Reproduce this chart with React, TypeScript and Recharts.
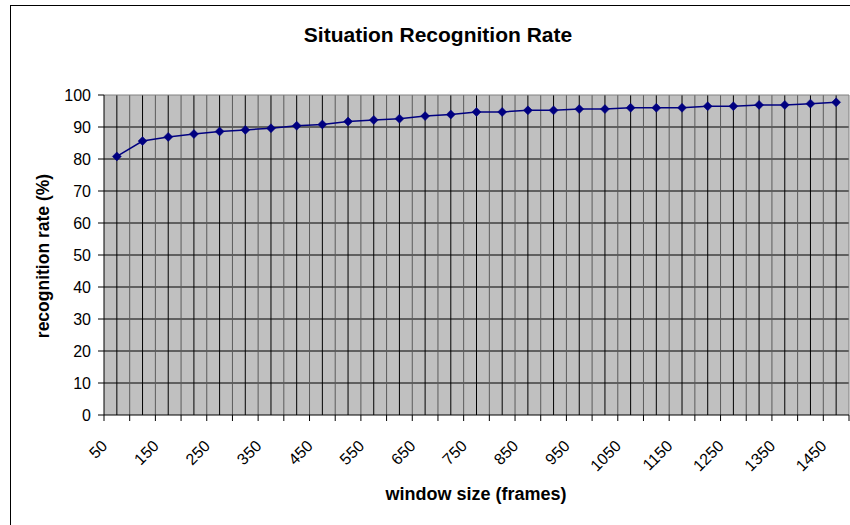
import React from "react";
import { LineChart, Line, XAxis, YAxis, CartesianGrid } from "recharts";

const windowSizes = [50,100,150,200,250,300,350,400,450,500,550,600,650,700,750,800,850,900,950,1000,1050,1100,1150,1200,1250,1300,1350,1400,1450];
const rates = [80.8,85.6,86.9,87.8,88.6,89.1,89.6,90.4,90.8,91.7,92.2,92.6,93.4,93.9,94.7,94.7,95.2,95.2,95.6,95.6,96.0,96.0,96.0,96.5,96.5,96.9,96.9,97.3,97.7];
const labelTicks = [50,150,250,350,450,550,650,750,850,950,1050,1150,1250,1350,1450];
const boundaryTicks = [25,75,125,175,225,275,325,375,425,475,525,575,625,675,725,775,825,875,925,975,1025,1075,1125,1175,1225,1275,1325,1375,1425,1475];
const yTicks = [0,10,20,30,40,50,60,70,80,90,100];
const yGrid = [10,20,30,40,50,60,70,80,90];

const data = windowSizes.map((x, i) => ({ x, rate: rates[i] }));
const allTicks = [...boundaryTicks, ...labelTicks].sort((a, b) => a - b);
const FONT = "Arial, 'Liberation Sans', sans-serif";

const XTick = (props: any) => {
  const { x, y, payload } = props;
  const v = payload.value;
  if (boundaryTicks.includes(v)) {
    return <line x1={x} x2={x} y1={y} y2={y + 6} stroke="#000" strokeWidth={1} />;
  }
  if (labelTicks.includes(v)) {
    const ax = x - 8.5;
    const ay = y + 32;
    return (
      <text x={ax} y={ay} textAnchor="end" fontSize={16} fontFamily={FONT} fill="#000" transform={`rotate(-45 ${ax} ${ay})`}>
        {v}
      </text>
    );
  }
  return null;
};

const Diamond = (props: any) => {
  const { cx, cy } = props;
  if (cx == null || cy == null) return null;
  const s = 4.5;
  return <path d={`M${cx},${cy - s}L${cx + s},${cy}L${cx},${cy + s}L${cx - s},${cy}Z`} fill="#000080" stroke="#000080" strokeWidth={0.5} />;
};

export default function App() {
  return (
    <div style={{ position: "fixed", left: 0, top: 0, width: 850, height: 525, overflow: "hidden", background: "#fff", fontFamily: FONT }}>
      <div style={{ position: "absolute", left: 10, top: 5, width: 900, height: 600, border: "1.5px solid #000", boxSizing: "border-box" }} />
      <div style={{ position: "absolute", left: 0, width: 876, top: 22, lineHeight: "26px", textAlign: "center", fontSize: 21, fontWeight: "bold", color: "#000" }}>
        Situation Recognition Rate
      </div>
      <div style={{ position: "absolute", left: 0, width: 952, top: 483, lineHeight: "22px", textAlign: "center", fontSize: 18, fontWeight: "bold", color: "#000" }}>
        window size (frames)
      </div>
      <div style={{ position: "absolute", left: 43, top: 256, width: 0, height: 0 }}>
        <div style={{ position: "absolute", left: -150, top: -11, width: 300, textAlign: "center", fontSize: 17.5, fontWeight: "bold", color: "#000", transform: "rotate(-90deg)", lineHeight: "22px" }}>
          recognition rate (%)
        </div>
      </div>
      <div style={{ position: "absolute", left: 0, top: 0 }}>
        <LineChart width={850} height={525} data={data} margin={{ top: 95, right: 1, left: 0, bottom: 0 }}>
          <CartesianGrid fill="#C0C0C0" horizontalValues={yGrid} vertical={false} stroke="#000" strokeDasharray="" />
          <CartesianGrid horizontal={false} verticalValues={boundaryTicks.slice(1, -1)} stroke="#5a5a5a" strokeDasharray="" />
          <CartesianGrid horizontal={false} verticalValues={windowSizes} stroke="#000" strokeDasharray="" />
          <CartesianGrid horizontalValues={[100]} verticalValues={[1475]} stroke="#808080" strokeDasharray="" />
          <XAxis
            dataKey="x"
            type="number"
            domain={[25, 1475]}
            ticks={allTicks}
            interval={0}
            tickSize={0}
            tickMargin={0}
            tickLine={false}
            tick={<XTick />}
            axisLine={{ stroke: "#000", strokeWidth: 1 }}
            height={110}
            allowDataOverflow
          />
          <YAxis
            type="number"
            domain={[0, 100]}
            ticks={yTicks}
            interval={0}
            width={104}
            tickSize={6}
            tickMargin={7}
            tick={{ fontSize: 16, fontFamily: FONT, fill: "#000" }}
            tickLine={{ stroke: "#000" }}
            axisLine={{ stroke: "#000", strokeWidth: 1 }}
          />
          <Line type="linear" dataKey="rate" stroke="#000080" strokeWidth={1.5} dot={<Diamond />} activeDot={false} isAnimationActive={false} />
        </LineChart>
      </div>
    </div>
  );
}
